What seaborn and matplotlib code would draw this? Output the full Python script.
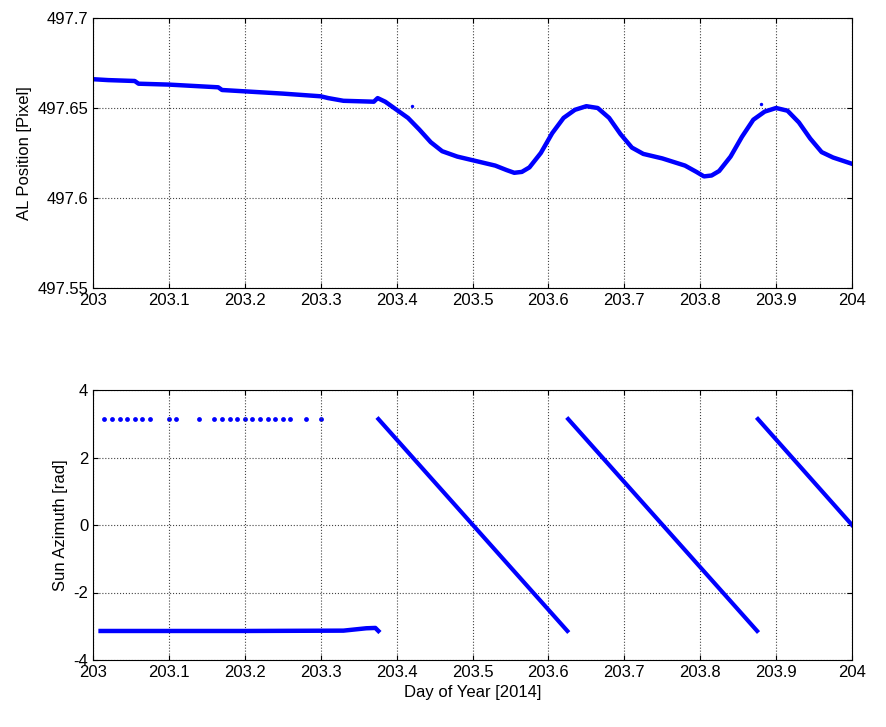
import matplotlib
matplotlib.use("Agg")
import matplotlib.pyplot as plt
import seaborn as sns
import numpy as np
import pandas as pd

plt.rcParams["font.family"] = "Liberation Sans"
plt.rcParams["axes.unicode_minus"] = False

# Top panel: AL position
al_day = [203.0, 203.02, 203.055, 203.06, 203.1, 203.165, 203.17, 203.25, 203.3, 203.31,
          203.33, 203.37, 203.375, 203.385, 203.4, 203.415, 203.43, 203.445, 203.46, 203.48,
          203.5, 203.53, 203.545, 203.555, 203.565, 203.575, 203.59, 203.605, 203.62, 203.635,
          203.65, 203.665, 203.68, 203.695, 203.71, 203.725, 203.75, 203.78, 203.795, 203.805,
          203.815, 203.825, 203.84, 203.855, 203.87, 203.885, 203.9, 203.915, 203.93, 203.945,
          203.96, 203.975, 204.0]
al_pos = [497.666, 497.6655, 497.665, 497.6635, 497.663, 497.6615, 497.660, 497.658, 497.6565, 497.6555,
          497.654, 497.6535, 497.6555, 497.6535, 497.649, 497.6445, 497.638, 497.631, 497.626, 497.623,
          497.621, 497.618, 497.6155, 497.614, 497.6145, 497.617, 497.625, 497.636, 497.6445, 497.649,
          497.651, 497.650, 497.6445, 497.6355, 497.628, 497.6245, 497.622, 497.618, 497.6145, 497.612,
          497.6125, 497.615, 497.623, 497.634, 497.6435, 497.648, 497.650, 497.6485, 497.642, 497.633,
          497.6255, 497.6225, 497.619]
al_out_day = [203.42, 203.88]
al_out_pos = [497.651, 497.652]

# Bottom panel: Sun azimuth
az_flat_day = [203.01, 203.1, 203.2, 203.33, 203.36, 203.372, 203.376]
az_flat_val = [-3.14, -3.14, -3.14, -3.13, -3.06, -3.05, -3.14]
az_seg_day = [[203.376, 203.625], [203.626, 203.875], [203.876, 204.0]]
az_seg_val = [[3.14, -3.14], [3.14, -3.14], [3.14, 0.0]]
az_dot_day = [203.015, 203.025, 203.035, 203.045, 203.055, 203.065, 203.075, 203.1, 203.11,
              203.14, 203.16, 203.17, 203.18, 203.19, 203.2, 203.21, 203.22, 203.23, 203.24,
              203.25, 203.26, 203.28, 203.3]
az_dot_val = [3.14] * len(az_dot_day)

blue = "#0000ff"
fig = plt.figure(figsize=(8.87, 7.27), dpi=100)
ax1 = fig.add_axes([93/887, 1-288/727, 759/887, 270/727])
ax2 = fig.add_axes([93/887, 1-660/727, 759/887, 270/727])

sns.lineplot(x=al_day, y=al_pos, ax=ax1, color=blue, lw=3.2, sort=False, estimator=None)
sns.scatterplot(x=al_out_day, y=al_out_pos, ax=ax1, color=blue, s=6, linewidth=0)
ax1.set_ylim(497.55, 497.7)
ax1.set_yticks([497.55, 497.6, 497.65, 497.7])
ax1.set_yticklabels(["497.55", "497.6", "497.65", "497.7"])
ax1.set_ylabel("AL Position [Pixel]", fontsize=12)

sns.lineplot(x=az_flat_day, y=az_flat_val, ax=ax2, color=blue, lw=3.2, sort=False, estimator=None)
for d, v in zip(az_seg_day, az_seg_val):
    sns.lineplot(x=d, y=v, ax=ax2, color=blue, lw=3, sort=False, estimator=None)
sns.scatterplot(x=az_dot_day, y=az_dot_val, ax=ax2, color=blue, s=12, linewidth=0)
ax2.set_ylim(-4, 4)
ax2.set_yticks([-4, -2, 0, 2, 4])
ax2.set_ylabel("Sun Azimuth [rad]", fontsize=12)
ax2.set_xlabel("Day of Year [2014]", fontsize=12)

xt = [203, 203.1, 203.2, 203.3, 203.4, 203.5, 203.6, 203.7, 203.8, 203.9, 204]
for ax in (ax1, ax2):
    ax.set_xlim(203, 204)
    ax.set_xticks(xt)
    ax.set_xticklabels(["203"] + [f"{v:.1f}" for v in xt[1:-1]] + ["204"])
    ax.grid(True, linestyle=":", color="#444444", lw=0.8)
    ax.tick_params(labelsize=12, direction="in", top=True, right=True)
    for s in ax.spines.values():
        s.set_linewidth(0.8)

fig.savefig("out.png", dpi=100)
